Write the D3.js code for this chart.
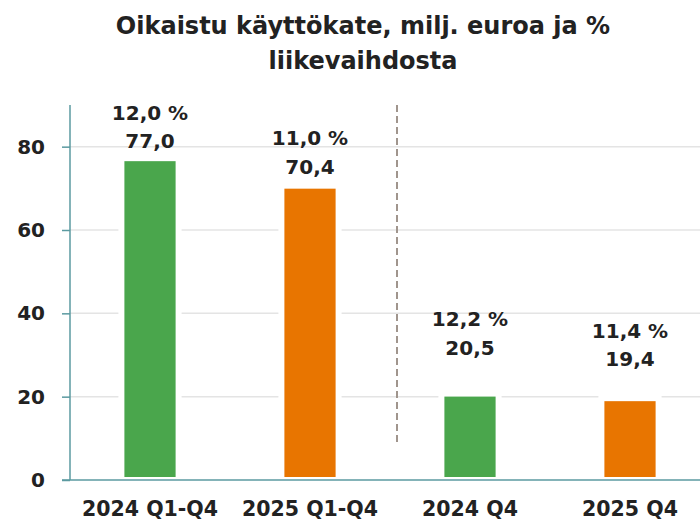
<!DOCTYPE html>
<html>
<head>
<meta charset="utf-8">
<script src="https://cdn.jsdelivr.net/npm/d3@7"></script>
<style>
  body { margin: 0; background: #fff; }
  svg { display: block; font-family: "DejaVu Sans", sans-serif; font-weight: 700; }
</style>
</head>
<body>
<svg id="chart" width="700" height="520"></svg>
<script>
// data
const categories = ['2024 Q1-Q4', '2025 Q1-Q4', '2024 Q4', '2025 Q4'];
const values = [77.0, 70.4, 20.5, 19.4];
const percents = ['12,0 %', '11,0 %', '12,2 %', '11,4 %'];
const valueLabels = ['77,0', '70,4', '20,5', '19,4'];
const yTicks = [0, 20, 40, 60, 80];
const titleLines = ['Oikaistu käyttökate, milj. euroa ja %', 'liikevaihdosta'];

// styling / layout
const barColors = ['#4aa64c', '#e87500', '#4aa64c', '#e87500'];
const labelLift = [11, 13, 40, 33]; // px between bar top and value label, as in the original

const svg = d3.select('#chart');
const margin = {top: 105, right: -10, bottom: 40, left: 70};
const width = 700 - margin.left - margin.right;
const height = 520 - margin.top - margin.bottom;

const x = d3.scaleBand()
    .domain(categories)
    .range([margin.left, margin.left + width])
    .paddingInner(0.68)
    .paddingOuter(0.34);

const y = d3.scaleLinear()
    .domain([0, 90])
    .range([margin.top + height, margin.top]);

// title
svg.append('text')
    .attr('x', 363)
    .attr('y', 34)
    .attr('text-anchor', 'middle')
    .attr('font-size', 24)
    .attr('fill', '#222')
    .selectAll('tspan')
    .data(titleLines)
    .join('tspan')
    .attr('x', 363)
    .attr('dy', (d, i) => i ? 35 : 0)
    .text(d => d);

// gridlines
svg.append('g')
    .selectAll('line')
    .data(yTicks.filter(d => d > 0))
    .join('line')
    .attr('x1', margin.left)
    .attr('x2', 700)
    .attr('y1', d => y(d))
    .attr('y2', d => y(d))
    .attr('stroke', '#e4e4e4')
    .attr('stroke-width', 1.5);

// white halo behind bars cuts the gridlines
svg.append('g')
    .selectAll('rect')
    .data(values)
    .join('rect')
    .attr('x', (d, i) => x(categories[i]) - 6)
    .attr('y', d => y(d) - 4)
    .attr('width', x.bandwidth() + 12)
    .attr('height', d => y(0) - y(d) + 4)
    .attr('fill', '#fff');

// bars
svg.append('g')
    .selectAll('rect')
    .data(values)
    .join('rect')
    .attr('x', (d, i) => x(categories[i]))
    .attr('y', d => y(d) + 2)
    .attr('width', x.bandwidth())
    .attr('height', d => y(0) - y(d) - 5)
    .attr('fill', (d, i) => barColors[i]);

// divider between full year and quarter
const divX = (x(categories[1]) + x(categories[2]) + x.bandwidth()) / 2 + 7;
svg.append('line')
    .attr('x1', divX)
    .attr('x2', divX)
    .attr('y1', margin.top)
    .attr('y2', y(8.5))
    .attr('stroke', '#a0958d')
    .attr('stroke-width', 2)
    .attr('stroke-dasharray', '7,4');

// y axis
const yAxis = svg.append('g')
    .attr('transform', `translate(${margin.left},0)`)
    .call(d3.axisLeft(y).tickValues(yTicks).tickSize(8).tickPadding(17).tickFormat(d3.format('d')));
yAxis.select('.domain').attr('stroke', '#5b9aa0').attr('stroke-width', 1.5)
    .attr('d', `M0,${margin.top}V${y(0)}`);
yAxis.selectAll('.tick line').attr('stroke', '#5b9aa0').attr('stroke-width', 1.5);
yAxis.selectAll('.tick text')
    .attr('font-size', 20)
    .attr('font-family', '"DejaVu Sans", sans-serif')
    .attr('font-weight', 700)
    .attr('fill', '#222');

// x axis
const xAxis = svg.append('g')
    .attr('transform', `translate(0,${y(0)})`)
    .call(d3.axisBottom(x).tickSize(0).tickPadding(21));
xAxis.select('.domain').attr('stroke', '#5b9aa0').attr('stroke-width', 1.5)
    .attr('d', `M${margin.left - 8},0H700`);
xAxis.selectAll('.tick text')
    .attr('font-size', 20.5)
    .attr('font-family', '"DejaVu Sans", sans-serif')
    .attr('font-weight', 700)
    .attr('fill', '#222');

// bar labels
const labels = svg.append('g')
    .attr('font-size', 20)
    .attr('fill', '#222')
    .attr('text-anchor', 'middle');
labels.selectAll('text.val')
    .data(values)
    .join('text')
    .attr('class', 'val')
    .attr('x', (d, i) => x(categories[i]) + x.bandwidth() / 2)
    .attr('y', (d, i) => y(d) - labelLift[i])
    .text((d, i) => valueLabels[i]);
labels.selectAll('text.pct')
    .data(values)
    .join('text')
    .attr('class', 'pct')
    .attr('x', (d, i) => x(categories[i]) + x.bandwidth() / 2)
    .attr('y', (d, i) => y(d) - labelLift[i] - 28.5)
    .text((d, i) => percents[i]);
</script>
</body>
</html>
